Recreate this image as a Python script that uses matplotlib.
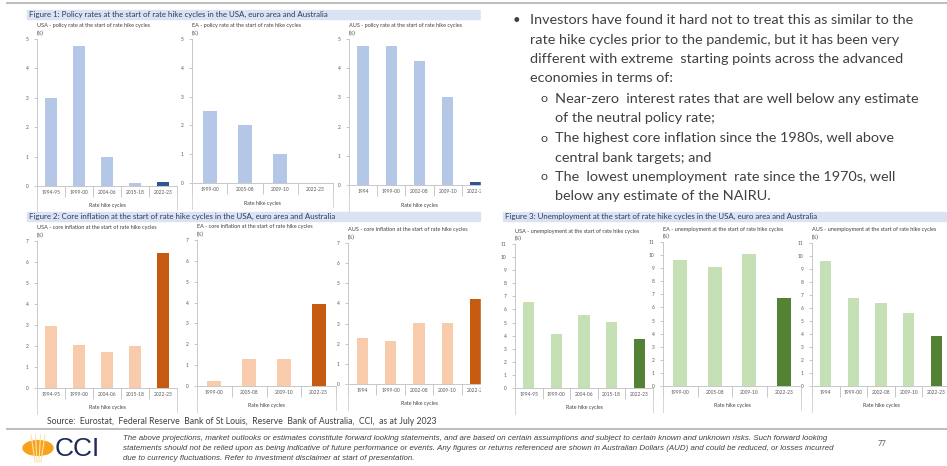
import matplotlib
matplotlib.use('Agg')
import matplotlib.pyplot as plt
from matplotlib.lines import Line2D
from matplotlib.patches import Rectangle, Circle

W, H = 947, 466
FONT = ['Lato', 'DejaVu Sans']
NARROW = ['Liberation Sans Narrow', 'Liberation Sans', 'DejaVu Sans']

# ---- data ----
usa_cycles = ['1994-95', '1999-00', '2004-06', '2015-18', '2022-23']
ea_cycles = ['1999-00', '2005-08', '2009-10', '2022-23']
aus_cycles = ['1994', '1999-00', '2002-08', '2009-10', '2022-23']

usa_policy = [3.0, 4.75, 1.0, 0.1, 0.12]
ea_policy = [2.5, 2.0, 1.0, 0.0]
aus_policy = [4.75, 4.75, 4.25, 3.0, 0.1]

usa_core = [2.95, 2.05, 1.7, 2.0, 6.45]
ea_core = [0.25, 1.3, 1.3, 3.95]
aus_core = [2.3, 2.15, 3.05, 3.05, 4.2]

usa_unemp = [6.6, 4.15, 5.6, 5.05, 3.75]
ea_unemp = [9.6, 9.1, 10.1, 6.7]
aus_unemp = [9.6, 6.8, 6.35, 5.65, 3.85]

fig = plt.figure(figsize=(W / 100, H / 100), dpi=100)
fig.patch.set_facecolor('white')


def add_ax(l, t, r, b):
    return fig.add_axes([l / W, 1 - b / H, (r - l) / W, (b - t) / H])


def hline(x0, x1, y, color='#bfbfbf', lw=1.0):
    fig.add_artist(Line2D([x0 / W, x1 / W], [1 - y / H, 1 - y / H],
                          transform=fig.transFigure, color=color, lw=lw))


def vline(x, y0, y1, color='#d0d0d0', lw=0.6):
    fig.add_artist(Line2D([x / W, x / W], [1 - y0 / H, 1 - y1 / H],
                          transform=fig.transFigure, color=color, lw=lw))


def ftext(x, y, s, **kw):
    kw.setdefault('family', FONT)
    kw.setdefault('va', 'center')
    fig.text(x / W, 1 - y / H, s, **kw)


def title_bar(x0, x1, y0, y1, s):
    fig.add_artist(Rectangle((x0 / W, 1 - y1 / H), (x1 - x0) / W, (y1 - y0) / H,
                             transform=fig.transFigure, color='#dae3f3', zorder=1))
    ftext(x0 + 2, (y0 + y1) / 2, s, fontsize=5.7, color='#2e3a59', zorder=2)


def panel(box, cats, vals, light, dark, ymax, title):
    l, t, r, b = box
    ax = add_ax(l, t, r, b)
    x = list(range(len(cats)))
    colors = [light] * (len(cats) - 1) + [dark]
    ax.bar(x, vals, width=0.4, color=colors)
    ax.set_xlim(-0.5, len(cats) - 0.5)
    ax.set_ylim(0, ymax)
    ax.set_yticks(range(0, ymax + 1))
    ax.set_xticks(x)
    ax.set_xticklabels(cats, fontsize=3.5, color='#595959', family=FONT)
    ax.set_xticks([i + 0.5 for i in range(-1, len(cats))], minor=True)
    ax.tick_params(axis='x', which='major', length=0, pad=3)
    ax.tick_params(axis='x', which='minor', length=8, color='#bfbfbf', width=0.6)
    ax.tick_params(axis='y', length=2, color='#bfbfbf', width=0.6, labelsize=3.5,
                   labelcolor='#595959', pad=4)
    for lab in ax.get_yticklabels():
        lab.set_family(FONT)
    for s in ['top', 'right']:
        ax.spines[s].set_visible(False)
    for s in ['left', 'bottom']:
        ax.spines[s].set_color('#bfbfbf')
        ax.spines[s].set_linewidth(0.6)
    ax.set_facecolor('none')
    ftext(l, t - 13, title, fontsize=4.0, color='#404040')
    ftext(l, t - 6, '(%)', fontsize=3.6, color='#404040')
    ftext((l + r) / 2, b + 20, 'Rate hike cycles', fontsize=3.8, color='#404040', ha='center')
    vline(l, b, b + 26)
    vline(r, b, b + 24)
    return ax


# frame lines
hline(7, 947, 3, lw=1.5)
hline(7, 947, 429, lw=1.5)

# figure 1 - policy rates
title_bar(27, 480, 10, 19, 'Figure 1: Policy rates at the start of rate hike cycles in the USA, euro area and Australia')
blue_l, blue_d = '#b4c7e7', '#2f5597'
panel((37, 39, 177, 186), usa_cycles, usa_policy, blue_l, blue_d, 5,
      'USA - policy rate at the start of rate hike cycles')
panel((192, 39, 333, 183), ea_cycles, ea_policy, blue_l, blue_d, 5,
      'EA - policy rate at the start of rate hike cycles')
panel((349, 39, 490, 185), aus_cycles, aus_policy, blue_l, blue_d, 5,
      'AUS - policy rate at the start of rate hike cycles')

# figure 2 - core inflation
title_bar(27, 480, 212, 221, 'Figure 2: Core inflation at the start of rate hike cycles in the USA, euro area and Australia')
org_l, org_d = '#f8cbad', '#c55a11'
panel((37, 241, 177, 388), usa_cycles, usa_core, org_l, org_d, 7,
      'USA - core inflation at the start of rate hike cycles')
panel((197, 240, 336, 386), ea_cycles, ea_core, org_l, org_d, 7,
      'EA - core inflation at the start of rate hike cycles')
panel((348, 243, 490, 384), aus_cycles, aus_core, org_l, org_d, 7,
      'AUS - core inflation at the start of rate hike cycles')

# cover the overflow of the left block
fig.add_artist(Rectangle((481 / W, 1 - 211 / H), 40 / W, 205 / H,
                         transform=fig.transFigure, color='white', zorder=3))
fig.add_artist(Rectangle((481 / W, 1 - 425 / H), 17 / W, 204 / H,
                         transform=fig.transFigure, color='white', zorder=3))

# figure 3 - unemployment
title_bar(503, 947, 212, 221, 'Figure 3: Unemployment at the start of rate hike cycles in the USA, euro area and Australia')
grn_l, grn_d = '#c5e0b4', '#548235'
panel((515, 244, 653, 388), usa_cycles, usa_unemp, grn_l, grn_d, 11,
      'USA - unemployment at the start of rate hike cycles')
panel((663, 242, 801, 386), ea_cycles, ea_unemp, grn_l, grn_d, 11,
      'EA - unemployment at the start of rate hike cycles')
panel((812, 243, 950, 386), aus_cycles, aus_unemp, grn_l, grn_d, 11,
      'AUS - unemployment at the start of rate hike cycles')

# commentary
txt = '#404040'
fs = 10.4
ftext(513, 20, '•', fontsize=fs - 1, color=txt)
main_lines = ['Investors have found it hard not to treat this as similar to the',
              'rate hike cycles prior to the pandemic, but it has been very',
              'different with extreme  starting points across the advanced',
              'economies in terms of:']
for i, s in enumerate(main_lines):
    ftext(530, 20 + i * 19.5, s, fontsize=fs, color=txt)
subs = [['Near-zero  interest rates that are well below any estimate',
         'of the neutral policy rate;'],
        ['The highest core inflation since the 1980s, well above',
         'central bank targets; and'],
        ['The  lowest unemployment  rate since the 1970s, well',
         'below any estimate of the NAIRU.']]
y = 99
for item in subs:
    ftext(540, y, 'o', fontsize=fs - 1.5, color=txt)
    for s in item:
        ftext(555, y, s, fontsize=fs, color=txt)
        y += 19.5

# footer
ftext(47, 422, 'Source:  Eurostat,  Federal Reserve  Bank of St Louis,  Reserve  Bank of Australia,  CCI,  as at July 2023',
      fontsize=6.25, color=txt)
fig.add_artist(Circle((38 / W, 1 - 448 / H), 15 / W, transform=fig.transFigure,
                      color='#f7a21b', zorder=2))
for dx in (-7, -2.5, 2.5, 7):
    fig.add_artist(Line2D([(38 + dx * 0.4) / W, (38 + dx) / W], [1 - 462 / H, 1 - 435 / H],
                          transform=fig.transFigure, color='#fde3a7', lw=0.8, zorder=3))
ftext(55, 449, 'CCI', fontsize=19, color='#1f2b5c', family=['Liberation Sans', 'DejaVu Sans'])
disc = ['The above projections, market outlooks or estimates constitute forward looking statements, and are based on certain assumptions and subject to certain known and unknown risks. Such forward looking',
        'statements should not be relied upon as being indicative of future performance or events. Any figures or returns referenced are shown in Australian Dollars (AUD) and could be reduced, or losses incurred',
        'due to currency fluctuations. Refer to investment disclaimer at start of presentation.']
for i, s in enumerate(disc):
    ftext(123, 439 + i * 10, s, fontsize=5.7, color='#404040', style='italic', family=NARROW)
ftext(878, 443, '77', fontsize=5.5, color='#595959')

fig.savefig('out.png', dpi=100)
